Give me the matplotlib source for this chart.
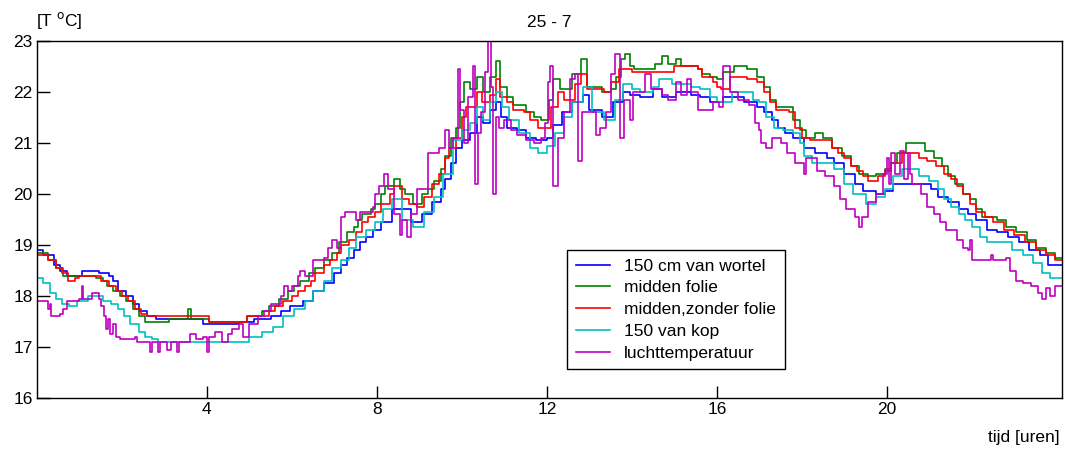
import matplotlib
matplotlib.use("Agg")
import matplotlib.pyplot as plt

plt.rcParams["font.family"] = ["Liberation Sans", "DejaVu Sans"]

# 150 cm van wortel
blue_t = [0, 0.15, 0.4, 0.55, 0.7, 1.05, 1.45, 1.7, 1.8, 1.9, 2.1, 2.25, 2.4, 2.6, 2.8, 3.9, 4.75, 5.1, 5.5,
          5.75, 5.95, 6.25, 6.5, 6.75, 7.0, 7.15, 7.3, 7.45, 7.6, 7.75, 7.9, 8.1, 8.35, 8.8, 9.05, 9.3, 9.5,
          9.6, 9.75, 9.85, 10.0, 10.2, 10.35, 10.5, 10.65, 10.8, 10.92, 11.05, 11.3, 11.5, 11.75, 12.0, 12.15,
          12.35, 12.6, 12.85, 13.0, 13.3, 13.55, 13.8, 13.95, 14.2, 14.5, 14.7, 15.05, 15.4, 15.6, 15.85, 16.15,
          16.65, 16.95, 17.1, 17.3, 17.45, 17.6, 17.8, 18.05, 18.3, 18.6, 18.75, 19.0, 19.25, 19.45, 19.75,
          19.95, 20.15, 21.05, 21.2, 21.45, 21.7, 21.9, 22.1, 22.35, 22.6, 22.85, 23.1, 23.35, 23.6, 23.8, 24.12]
blue_v = [18.9, 18.8, 18.6, 18.5, 18.4, 18.5, 18.45, 18.4, 18.3, 18.1, 18.0, 17.85, 17.7, 17.6, 17.55, 17.45,
          17.5, 17.55, 17.6, 17.7, 17.8, 17.9, 18.1, 18.25, 18.45, 18.6, 18.75, 18.9, 19.05, 19.15, 19.3, 19.45,
          19.7, 19.45, 19.6, 19.85, 20.1, 20.3, 20.6, 20.9, 21.05, 21.2, 21.5, 21.4, 21.65, 21.8, 21.5, 21.3,
          21.25, 21.1, 21.05, 21.1, 21.35, 21.6, 21.8, 21.95, 21.65, 21.5, 21.8, 22.0, 21.95, 21.9, 22.05, 21.9,
          22.0, 21.95, 21.9, 21.8, 21.9, 21.8, 21.7, 21.6, 21.45, 21.3, 21.2, 21.1, 20.9, 20.8, 20.7, 20.6, 20.4,
          20.2, 20.05, 20.0, 20.05, 20.2, 20.1, 19.95, 19.85, 19.7, 19.6, 19.5, 19.3, 19.25, 19.15, 19.05, 18.9,
          18.8, 18.6, 18.6]

# midden folie
green_t = [0, 0.25, 0.45, 0.62, 1.4, 1.55, 1.65, 1.8, 1.95, 2.1, 2.25, 2.4, 2.55, 3.1, 3.55, 3.62, 4.05, 4.95,
           5.3, 5.45, 5.7, 5.9, 6.05, 6.2, 6.4, 6.55, 6.75, 6.95, 7.1, 7.3, 7.45, 7.55, 7.65, 7.85, 7.95, 8.1,
           8.2, 8.4, 8.55, 8.65, 8.85, 9.05, 9.2, 9.35, 9.5, 9.6, 9.75, 9.85, 9.95, 10.05, 10.2, 10.35, 10.5,
           10.65, 10.8, 10.9, 11.05, 11.2, 11.5, 11.7, 11.85, 12.05, 12.15, 12.3, 12.6, 12.8, 12.95, 13.3, 13.5,
           13.62, 13.75, 13.85, 13.95, 14.05, 14.45, 14.55, 14.7, 14.85, 15.05, 15.15, 15.55, 15.65, 15.85, 16.0,
           16.15, 16.4, 16.7, 16.95, 17.1, 17.25, 17.4, 17.7, 17.8, 17.95, 18.1, 18.3, 18.5, 18.7, 18.95, 19.15,
           19.35, 19.55, 19.75, 19.95, 20.1, 20.25, 20.45, 20.9, 21.1, 21.3, 21.45, 21.6, 21.8, 21.95, 22.1,
           22.25, 22.6, 22.8, 23.05, 23.3, 23.5, 23.75, 23.95, 24.12]
green_v = [18.85, 18.7, 18.55, 18.4, 18.35, 18.3, 18.2, 18.1, 18.0, 17.9, 17.75, 17.6, 17.5, 17.55, 17.75, 17.55,
           17.5, 17.6, 17.7, 17.8, 17.95, 18.1, 18.2, 18.3, 18.45, 18.55, 18.7, 18.85, 19.05, 19.25, 19.35, 19.5,
           19.6, 19.7, 19.8, 20.0, 20.15, 20.3, 20.1, 20.0, 19.8, 20.0, 20.1, 20.25, 20.5, 20.75, 21.1, 21.3, 21.8,
           22.2, 22.05, 22.3, 22.0, 22.3, 22.6, 22.1, 21.9, 21.75, 21.6, 21.5, 21.45, 21.85, 22.25, 22.05, 22.35,
           22.65, 22.1, 22.0, 22.05, 22.3, 22.65, 22.75, 22.5, 22.45, 22.45, 22.55, 22.7, 22.55, 22.65, 22.5,
           22.45, 22.35, 22.3, 22.25, 22.4, 22.5, 22.45, 22.3, 22.1, 21.85, 21.7, 21.7, 21.45, 21.25, 21.1, 21.2,
           21.1, 20.9, 20.75, 20.55, 20.4, 20.35, 20.4, 20.5, 20.6, 20.8, 21.0, 20.85, 20.7, 20.55, 20.35, 20.2,
           20.0, 19.9, 19.7, 19.55, 19.5, 19.35, 19.25, 19.1, 18.95, 18.85, 18.75, 18.75]

# midden, zonder folie
red_t = [0, 0.25, 0.45, 0.6, 0.72, 0.9, 1.0, 1.5, 1.7, 1.85, 2.0, 2.15, 2.3, 2.45, 2.6, 4.05, 4.95, 5.45, 5.6,
         5.8, 6.0, 6.15, 6.3, 6.45, 6.55, 6.75, 6.9, 7.05, 7.15, 7.35, 7.5, 7.65, 7.8, 7.95, 8.1, 8.3, 8.4, 8.6,
         8.75, 8.95, 9.1, 9.3, 9.45, 9.6, 9.7, 9.85, 10.0, 10.1, 10.35, 10.48, 10.65, 10.8, 10.9, 11.05, 11.2,
         11.45, 11.6, 11.8, 12.1, 12.25, 12.4, 12.65, 12.8, 12.95, 13.35, 13.5, 13.7, 14.0, 14.5, 15.0, 15.55,
         15.65, 15.9, 16.0, 16.1, 16.3, 16.7, 16.95, 17.1, 17.25, 17.4, 17.7, 17.85, 18.0, 18.2, 18.55, 18.7,
         18.85, 19.0, 19.15, 19.3, 19.45, 19.55, 19.8, 19.95, 20.1, 20.35, 20.75, 20.95, 21.15, 21.35, 21.5,
         21.65, 21.8, 21.95, 22.1, 22.3, 22.5, 22.75, 23.0, 23.25, 23.5, 23.75, 23.95, 24.12]
red_v = [18.8, 18.7, 18.55, 18.45, 18.3, 18.35, 18.4, 18.3, 18.2, 18.1, 18.0, 17.9, 17.75, 17.65, 17.6, 17.5,
         17.6, 17.7, 17.8, 17.9, 18.0, 18.1, 18.2, 18.3, 18.45, 18.6, 18.7, 18.85, 19.0, 19.1, 19.25, 19.45,
         19.55, 19.65, 19.8, 20.0, 20.15, 19.9, 19.8, 19.75, 19.95, 20.2, 20.4, 20.7, 20.9, 21.1, 21.5, 21.7,
         22.0, 21.8, 21.95, 22.25, 21.9, 21.8, 21.65, 21.6, 21.45, 21.3, 21.7, 22.0, 21.85, 22.15, 22.35, 22.05,
         22.0, 22.2, 22.45, 22.4, 22.4, 22.5, 22.45, 22.3, 22.2, 22.1, 22.05, 22.3, 22.25, 22.2, 22.0, 21.8,
         21.65, 21.6, 21.3, 21.1, 21.05, 21.05, 20.9, 20.8, 20.7, 20.55, 20.45, 20.35, 20.25, 20.35, 20.45, 20.6,
         20.8, 20.7, 20.65, 20.55, 20.4, 20.3, 20.15, 20.0, 19.8, 19.65, 19.55, 19.45, 19.3, 19.2, 19.05, 18.9,
         18.8, 18.7, 18.7]

# 150 van kop
cyan_t = [0, 0.15, 0.3, 0.45, 0.6, 0.75, 0.95, 1.2, 1.45, 1.55, 1.75, 1.9, 2.05, 2.2, 2.4, 2.55, 2.7, 2.85, 5.0,
          5.3, 5.55, 5.8, 6.05, 6.3, 6.5, 6.75, 6.95, 7.15, 7.35, 7.5, 7.75, 7.95, 8.15, 8.35, 8.6, 8.85, 9.1,
          9.35, 9.55, 9.8, 10.0, 10.2, 10.35, 10.5, 10.65, 10.8, 10.95, 11.1, 11.35, 11.6, 11.8, 12.0, 12.2,
          12.4, 12.6, 12.85, 13.05, 13.35, 13.6, 13.8, 14.0, 14.2, 14.5, 14.65, 14.95, 15.4, 15.6, 15.85, 16.0,
          16.35, 16.85, 17.0, 17.15, 17.35, 17.55, 17.8, 17.95, 18.05, 18.25, 18.75, 19.0, 19.2, 19.5, 19.75,
          19.95, 20.15, 20.35, 20.75, 21.0, 21.2, 21.35, 21.5, 21.7, 21.85, 22.0, 22.2, 22.35, 22.95, 23.2,
          23.45, 23.65, 23.85, 24.12]
cyan_v = [18.35, 18.25, 18.05, 17.95, 17.85, 17.8, 17.9, 18.0, 18.0, 17.9, 17.85, 17.75, 17.6, 17.45, 17.3,
          17.2, 17.15, 17.1, 17.2, 17.3, 17.4, 17.6, 17.75, 17.9, 18.1, 18.3, 18.55, 18.7, 18.95, 19.15, 19.3,
          19.45, 19.7, 19.9, 19.5, 19.35, 19.65, 19.95, 20.4, 21.05, 21.25, 21.4, 21.7, 21.45, 21.8, 22.0, 21.7,
          21.45, 21.2, 20.9, 20.8, 20.95, 21.2, 21.5, 21.8, 22.1, 21.6, 21.45, 21.85, 22.15, 22.05, 22.0, 22.1,
          22.25, 22.15, 22.1, 22.05, 21.9, 21.8, 22.0, 21.85, 21.8, 21.5, 21.3, 21.25, 21.2, 21.0, 20.75, 20.6,
          20.5, 20.2, 20.0, 19.8, 19.95, 20.1, 20.35, 20.5, 20.35, 20.25, 20.1, 19.9, 19.75, 19.6, 19.5, 19.35,
          19.15, 19.05, 18.9, 18.8, 18.65, 18.45, 18.35, 18.35]

# luchttemperatuur
air_t = [0, 0.2, 0.25, 0.3, 0.32, 0.45, 0.55, 0.62, 0.7, 1.0, 1.05, 1.08, 1.3, 1.45, 1.5, 1.58, 1.62, 1.68, 1.72,
         1.8, 1.85, 1.95, 2.3, 2.35, 2.6, 2.65, 2.7, 2.85, 2.9, 3.05, 3.15, 3.3, 3.35, 3.5, 3.6, 3.75, 3.9, 4.0,
         4.05, 4.2, 4.35, 4.5, 4.6, 4.75, 4.85, 5.0, 5.2, 5.35, 5.5, 5.75, 5.82, 5.9, 6.0, 6.15, 6.2, 6.3, 6.5,
         6.75, 6.85, 6.95, 7.05, 7.15, 7.25, 7.5, 7.6, 7.9, 7.95, 8.05, 8.17, 8.25, 8.4, 8.55, 8.6, 8.7, 8.8,
         8.95, 9.2, 9.45, 9.6, 9.7, 9.8, 9.9, 9.95, 10.05, 10.15, 10.25, 10.3, 10.37, 10.45, 10.55, 10.62,
         10.68, 10.74, 10.8, 10.88, 11.0, 11.15, 11.3, 11.5, 11.7, 11.85, 11.95, 12.02, 12.08, 12.14, 12.25,
         12.4, 12.55, 12.65, 12.73, 12.82, 13.0, 13.15, 13.25, 13.4, 13.5, 13.6, 13.68, 13.72, 13.82, 13.95,
         14.02, 14.2, 14.3, 14.45, 14.7, 14.85, 15.05, 15.15, 15.3, 15.4, 15.55, 15.9, 16.05, 16.15, 16.3, 16.5,
         16.75, 16.9, 16.98, 17.05, 17.15, 17.3, 17.5, 17.65, 17.85, 18.05, 18.1, 18.35, 18.55, 18.75, 18.9,
         19.05, 19.25, 19.35, 19.42, 19.55, 19.75, 19.92, 20.0, 20.05, 20.1, 20.2, 20.3, 20.4, 20.5, 20.55,
         20.6, 20.8, 20.95, 21.1, 21.25, 21.4, 21.65, 21.8, 21.9, 21.95, 22.0, 22.45, 22.5, 22.8, 22.9, 23.05,
         23.2, 23.4, 23.55, 23.65, 23.75, 23.85, 23.95, 24.12]
air_v = [17.9, 17.9, 17.75, 17.85, 17.6, 17.6, 17.65, 17.75, 17.9, 17.95, 18.2, 17.95, 18.05, 17.95, 17.8,
         17.6, 17.35, 17.55, 17.25, 17.45, 17.2, 17.15, 17.2, 17.1, 17.1, 16.9, 17.1, 16.9, 17.1, 16.95, 17.1,
         16.9, 17.1, 17.1, 17.25, 17.15, 17.2, 16.9, 17.2, 17.3, 17.1, 17.25, 17.35, 17.45, 17.2, 17.45, 17.6,
         17.7, 17.85, 18.0, 18.2, 18.1, 18.2, 18.4, 18.5, 18.4, 18.7, 18.75, 18.95, 19.1, 18.95, 19.55, 19.65,
         19.5, 19.65, 19.75, 20.0, 20.15, 20.4, 20.1, 19.6, 19.2, 19.5, 19.15, 19.6, 20.1, 20.8, 20.9, 21.25,
         20.9, 21.1, 22.45, 21.65, 21.0, 21.9, 22.5, 20.2, 21.2, 21.6, 22.4, 23.0, 22.1, 20.0, 21.5, 21.3, 21.45,
         21.25, 21.15, 21.05, 21.0, 21.1, 21.4, 22.2, 22.5, 20.15, 21.1, 21.6, 22.25, 22.35, 20.65, 21.6, 21.6,
         21.15, 21.3, 21.6, 22.35, 22.75, 22.75, 21.1, 21.85, 21.45, 22.0, 22.0, 22.35, 22.05, 21.95, 21.85,
         22.2, 21.95, 22.25, 22.0, 21.65, 21.8, 21.7, 22.5, 22.0, 21.85, 21.75, 21.4, 21.25, 21.0, 20.9, 21.1,
         21.0, 20.8, 20.6, 20.4, 20.7, 20.45, 20.35, 20.15, 19.9, 19.7, 19.55, 19.35, 19.55, 19.85, 20.0, 20.4,
         20.7, 20.2, 20.8, 20.4, 20.85, 20.3, 20.8, 20.4, 20.2, 20.0, 19.75, 19.6, 19.45, 19.3, 19.1, 18.95,
         18.9, 19.1, 18.7, 18.8, 18.7, 18.75, 18.5, 18.3, 18.25, 18.2, 18.05, 17.95, 18.15, 18.0, 18.2, 18.2]

labels = ["150 cm van wortel", "midden folie", "midden,zonder folie", "150 van kop", "luchttemperatuur"]
colors = ["#0000FF", "#008000", "#FF0000", "#00C0C0", "#C000C0"]
series = [(blue_t, blue_v), (green_t, green_v), (red_t, red_v), (cyan_t, cyan_v), (air_t, air_v)]

x_ticks = [4, 8, 12, 16, 20]
y_ticks = [16, 17, 18, 19, 20, 21, 22, 23]

fs = 12.5
fig = plt.figure(figsize=(10.65, 4.51), dpi=100)
ax = fig.add_axes([0.0347, 0.1175, 0.9624, 0.7916])

for (t, v), lab, col in zip(series, labels, colors):
    ax.plot(t, v, drawstyle="steps-post", color=col, lw=1.2, label=lab)

ax.set_xlim(0, 24.12)
ax.set_ylim(16, 23)
ax.set_xticks(x_ticks)
ax.set_yticks(y_ticks)
ax.tick_params(direction="in", length=9, width=1, labelsize=fs, pad=3)
for s in ax.spines.values():
    s.set_linewidth(1)

ax.set_title("25 - 7", fontsize=fs, pad=10)
fig.text(0.034, 0.955, "[T $^{\\rm o}$C]", fontsize=fs, ha="left", va="center")
fig.text(0.995, 0.03, "tijd [uren]", fontsize=fs, ha="right", va="center")

leg = ax.legend(loc="upper left", bbox_to_anchor=(0.517, 0.415), fontsize=fs, frameon=True,
                fancybox=False, edgecolor="black", framealpha=1, handlelength=2.0,
                borderpad=0.5, labelspacing=0.38, borderaxespad=0)
leg.get_frame().set_linewidth(1)

fig.savefig("out.png", dpi=100)
